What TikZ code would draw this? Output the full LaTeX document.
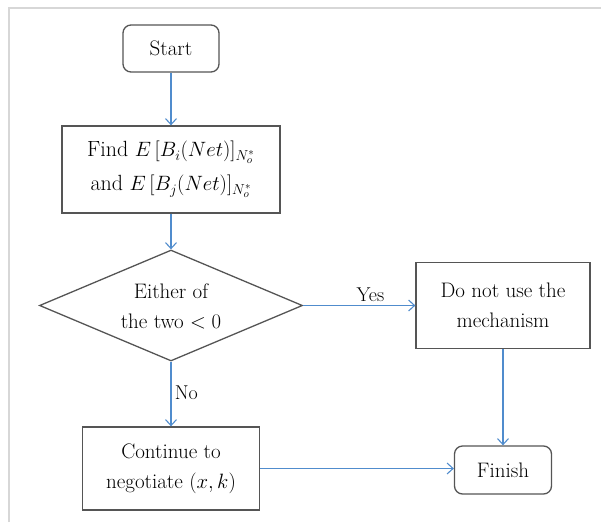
\documentclass[tikz,border=0pt]{standalone}
\usepackage{fontspec}
\usetikzlibrary{shapes.geometric,arrows.meta}
\definecolor{boxgray}{RGB}{85,85,85}
\definecolor{arrowblue}{RGB}{80,140,205}
\definecolor{framegray}{RGB}{215,215,215}
\tikzset{
  x=1pt, y=-1pt,
  every node/.style={font=\fontsize{21}{30}\selectfont, align=center},
  boxnode/.style={draw=boxgray, line width=1.3pt, inner sep=0pt},
  roundnode/.style={boxnode, rounded corners=8pt},
  decision/.style={draw=boxgray, line width=1.3pt, diamond, inner sep=0pt, minimum width=263pt, minimum height=111pt},
  flow/.style={draw=arrowblue, line width=1.1pt, -{Straight Barb[length=6pt,width=11pt,line width=1.1pt]}},
  lbl/.style={font=\fontsize{20}{24}\selectfont}
}
\begin{document}
\begin{tikzpicture}
\useasboundingbox (0,0) rectangle (601,522);
\draw[framegray, line width=1.5pt] (9,522) -- (9,8) -- (601,8);
\node[roundnode, minimum width=96pt, minimum height=47pt] (start) at (171,48.5) {Start};
\node[boxnode, minimum width=218pt, minimum height=87pt, font=\fontsize{22}{34}\selectfont] (find) at (171,169.5) {Find $E\,[B_i(Net)]_{N_o^*}$\\ and $E\,[B_j(Net)]_{N_o^*}$};
\node[decision] (dec) at (171,305.5) {};
\node at (171,306) {Either of\\the two $<0$};
\node[boxnode, minimum width=174pt, minimum height=86pt] (nouse) at (503,305.5) {Do not use the\\mechanism};
\node[boxnode, minimum width=177pt, minimum height=83pt] (cont) at (171,468.5) {Continue to\\negotiate $(x,k)$};
\node[roundnode, minimum width=97pt, minimum height=48pt] (finish) at (503,470) {Finish};
\draw[flow] (start.south) -- (find.north);
\draw[flow] (find.south) -- (dec.north);
\draw[flow] (dec.east) -- node[lbl, above, pos=0.6] (yes) {Yes} (nouse.west);
\draw[flow] (dec.south) -- node[lbl, right, pos=0.48] (no) {No} (cont.north);
\draw[flow] (nouse.south) -- (finish.north);
\draw[flow] (cont.east) -- (cont.east -| finish.west);
\end{tikzpicture}
\end{document}
